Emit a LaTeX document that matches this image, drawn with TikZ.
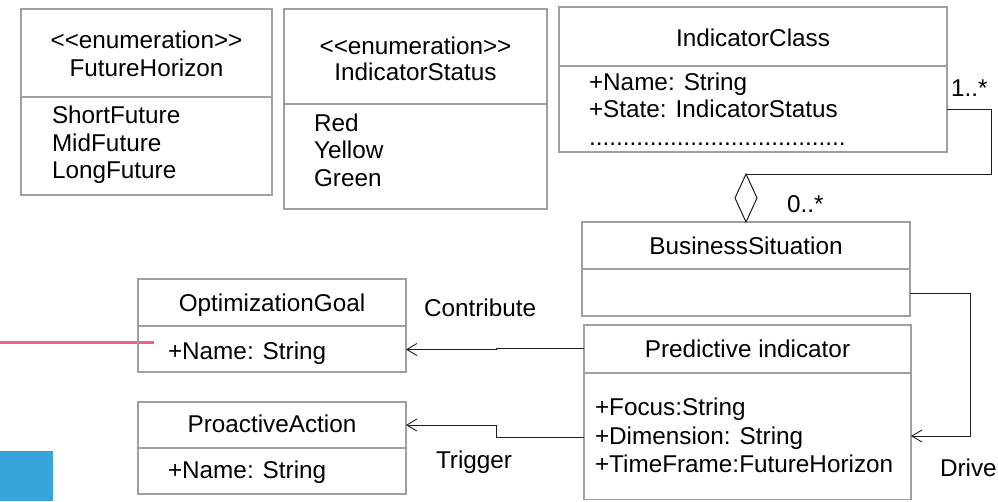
\documentclass[tikz,border=0pt]{standalone}
\usepackage{fontspec}
\setmainfont{Liberation Sans}
\usetikzlibrary{arrows.meta}
\definecolor{boxline}{HTML}{A0A0A0}
\definecolor{wirecol}{HTML}{1E1E1E}
\definecolor{pinkline}{HTML}{F2608E}
\definecolor{bluesq}{HTML}{36A3DA}
\begin{document}
\begin{tikzpicture}[x=1pt,y=-1pt,
  box/.style={draw=boxline, line width=1.2pt, rectangle, anchor=north west,
              inner sep=0pt, outer sep=0pt},
  divider/.style={draw=boxline, line width=1.2pt},
  lbl/.style={inner sep=0pt, outer sep=0pt, font=\fontsize{24.3}{27.6}\selectfont},
  lt/.style={lbl, anchor=base west},
  ct/.style={lbl, anchor=base},
  wire/.style={draw=wirecol, line width=1pt},
  openarrow/.style={-{Straight Barb[length=10pt,width=12pt,line width=0.9pt]}}
]
\useasboundingbox (0,0) rectangle (998,501);

% decorative marks on the left edge
\fill[bluesq] (0,451) rectangle (53,501);
\draw[pinkline, line width=3pt] (0,342) -- (154,342);

% class boxes
\node[box, minimum width=251pt, minimum height=186pt] (fh) at (21,9) {};
\node[box, minimum width=263pt, minimum height=200pt] (is) at (284,9) {};
\node[box, minimum width=388pt, minimum height=145pt] (ic) at (559,7) {};
\node[box, minimum width=328pt, minimum height=94pt]  (bs) at (582,222) {};
\node[box, minimum width=327pt, minimum height=174.5pt] (pi) at (584,325) {};
\node[box, minimum width=268pt, minimum height=93pt]  (og) at (138,279) {};
\node[box, minimum width=268pt, minimum height=92pt]  (pa) at (138,402) {};

% compartment separators
\draw[divider] (fh.west |- 0,97)  -- (fh.east |- 0,97);
\draw[divider] (is.west |- 0,104) -- (is.east |- 0,104);
\draw[divider] (ic.west |- 0,66)  -- (ic.east |- 0,66);
\draw[divider] (bs.west |- 0,269) -- (bs.east |- 0,269);
\draw[divider] (pi.west |- 0,373) -- (pi.east |- 0,373);
\draw[divider] (og.west |- 0,326) -- (og.east |- 0,326);
\draw[divider] (pa.west |- 0,448) -- (pa.east |- 0,448);

% FutureHorizon
\node[ct] (fhst) at (146.5,48) {<\kern0pt<enumeration>\kern0pt>};
\node[ct] (fhnm) at (146.5,76) {FutureHorizon};
\node[lt] (fh1) at (52,123) {ShortFuture};
\node[lt] (fh2) at (52,151) {MidFuture};
\node[lt] (fh3) at (52,178) {LongFuture};

% IndicatorStatus
\node[ct] (isst) at (415.5,54) {<\kern0pt<enumeration>\kern0pt>};
\node[ct] (isnm) at (415.5,80) {IndicatorStatus};
\node[lt] (is1) at (314,131) {Red};
\node[lt] (is2) at (314,158) {Yellow};
\node[lt] (is3) at (314,186) {Green};

% IndicatorClass
\node[ct] (icnm) at (753,46) {IndicatorClass};
\node[lt] (ic1) at (589,90) {+Name: String};
\node[lt] (ic2) at (589,117) {+State: IndicatorStatus};
\node[lt] (ic3) at (589,145) {......................................};

% BusinessSituation
\node[ct] (bsnm) at (746,254) {BusinessSituation};

% Predictive indicator
\node[ct] (pinm) at (747.5,357) {Predictive indicator};
\node[lt] (pi1) at (595,415) {+Focus:String};
\node[lt] (pi2) at (595,444) {+Dimension: String};
\node[lt] (pi3) at (595,472) {+TimeFrame:FutureHorizon};

% OptimizationGoal
\node[ct] (ognm) at (272,311) {OptimizationGoal};
\node[lt] (og1) at (168,359) {+Name: String};

% ProactiveAction
\node[ct] (panm) at (272,432) {ProactiveAction};
\node[lt] (pa1) at (168,478) {+Name: String};

% aggregation IndicatorClass -- BusinessSituation
\coordinate (dtop) at (746,174);
\draw[wire] (ic.east |- 0,109) -- (991,109) -- (991,174) -- (dtop);
\draw[wire, fill=white] (dtop) -- ++(11,24) -- (bs.north) -- ++(-11,-24) -- cycle;
\node[lt] (m1) at (951,96) {1..*};
\node[lt] (m0) at (787,212) {0..*};

% directed associations
\draw[wire, openarrow] (bs.east |- 0,293) -- (970,293) -- (970,436) -- (pi.east |- 0,436);
\draw[wire, openarrow] (pi.west |- 0,348) -- (496,348) -- (496,349.5) -- (og.east |- 0,349.5);
\draw[wire, openarrow] (pi.west |- 0,437) -- (496,437) -- (496,425) -- (pa.east |- 0,425);
\node[lt] (drive) at (940,476) {Drive};
\node[lt] (contrib) at (424,316) {Contribute};
\node[lt] (trigger) at (436,468) {Trigger};
\end{tikzpicture}
\end{document}
